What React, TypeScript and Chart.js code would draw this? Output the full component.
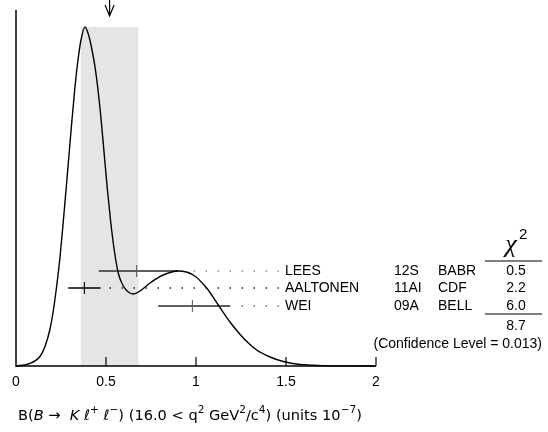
import React, { useEffect, useRef } from "react";
import { Chart, registerables } from "chart.js";

Chart.register(...registerables);

// ---------- data ----------
const X_TICKS = [0, 0.5, 1, 1.5, 2];
const X_TICK_LABELS = ["0", "0.5", "1", "1.5", "2"];

const NAMES = ["LEES", "AALTONEN", "WEI"];
const CODES = ["12S", "11AI", "09A"];
const EXPTS = ["BABR", "CDF", "BELL"];
const VALUES = [0.67, 0.38, 0.98];
const ERR_MINUS = [0.21, 0.09, 0.19];
const ERR_PLUS = [0.23, 0.09, 0.21];
const ROW_Y = [95, 78, 60];
const CHI2 = ["0.5", "2.2", "6.0"];
const CHI2_TOTAL = "8.7";
const CONF_LEVEL = "0.013";

const MEAN = 0.52;
const MEAN_ERR = 0.16;

const CURVE_X = [
  0, 0.067, 0.133, 0.161, 0.189, 0.207, 0.226, 0.244, 0.259, 0.276, 0.293, 0.309,
  0.326, 0.343, 0.36, 0.383, 0.405, 0.42, 0.439, 0.455, 0.471, 0.49, 0.507, 0.525,
  0.545, 0.568, 0.596, 0.624, 0.652, 0.689, 0.744, 0.818, 0.902, 0.985, 1.059, 1.124,
  1.189, 1.263, 1.337, 1.411, 1.485, 1.578, 1.7, 1.85, 2.0,
];
const CURVE_Y = [
  0, 2, 9.5, 19.5, 37, 55, 80, 108, 137, 172, 208, 242,
  276, 304, 325, 339, 330, 318, 299, 277, 250, 212, 178, 146,
  117, 93, 80, 74, 72, 75, 83, 91, 95, 91, 78, 61,
  44, 28, 16, 9, 4.5, 1.5, 0.4, 0.1, 0,
];

const TITLE = [
  { t: "B(" },
  { t: "B", it: true },
  { t: " \u2192  " },
  { t: "K", it: true },
  { t: " \u2113" },
  { t: "+", sup: true },
  { t: " \u2113" },
  { t: "\u2212", sup: true },
  { t: ") (16.0 < q" },
  { t: "2", sup: true },
  { t: " GeV" },
  { t: "2", sup: true },
  { t: "/c" },
  { t: "4", sup: true },
  { t: ") (units 10" },
  { t: "\u22127", sup: true },
  { t: ")" },
];

// ---------- styles ----------
const BAR_COLORS = ["#5e5e5e", "#000000", "#5e5e5e"];
const BAR_WIDTHS = [2, 1.3, 2];
const DOT_COLORS = ["#777777", "#000000", "#555555"];
const DOT_STEP = 12 / 180;
const DOT_END = 1.46;
const SANS = '"Liberation Sans", Arial, sans-serif';
const TITLE_FONT = '"DejaVu Sans", sans-serif';

function dotStart(hi: number) {
  const k = Math.ceil((hi + 0.03 - MEAN) / DOT_STEP);
  return MEAN + Math.max(0, k) * DOT_STEP;
}

const ideogramPlugin = {
  id: "ideogram",
  beforeDatasetsDraw(chart: any) {
    const { ctx } = chart;
    const xs = chart.scales.x;
    const ys = chart.scales.y;
    const x0 = xs.getPixelForValue(MEAN - MEAN_ERR);
    const x1 = xs.getPixelForValue(MEAN + MEAN_ERR);
    const peak = Math.max(...CURVE_Y);
    const yTop = ys.getPixelForValue(peak);
    const yBot = ys.getPixelForValue(0);
    ctx.save();
    ctx.fillStyle = "#e5e5e5";
    ctx.fillRect(x0, yTop, x1 - x0, yBot - yTop);
    ctx.restore();
  },
  afterDatasetsDraw(chart: any) {
    const { ctx, chartArea } = chart;
    const xs = chart.scales.x;
    const ys = chart.scales.y;
    const yBot = ys.getPixelForValue(0);
    const xL = xs.getPixelForValue(0);
    const xR = xs.getPixelForValue(2);
    ctx.save();
    // axes
    ctx.strokeStyle = "#000";
    ctx.lineWidth = 1.5;
    ctx.beginPath();
    ctx.moveTo(xL, chartArea.top);
    ctx.lineTo(xL, yBot);
    ctx.lineTo(xR, yBot);
    ctx.stroke();
    // ticks
    ctx.lineWidth = 1.2;
    X_TICKS.forEach((v, i) => {
      const px = xs.getPixelForValue(v);
      if (i > 0) {
        ctx.beginPath();
        ctx.moveTo(px, yBot);
        ctx.lineTo(px, yBot - 9);
        ctx.stroke();
      }
      ctx.fillStyle = "#000";
      ctx.font = `14px ${SANS}`;
      ctx.textAlign = "center";
      ctx.textBaseline = "middle";
      ctx.fillText(X_TICK_LABELS[i], px, yBot + 16);
    });
    // arrow at mean
    const ax = xs.getPixelForValue(MEAN);
    ctx.lineWidth = 1.2;
    ctx.beginPath();
    ctx.moveTo(ax, 0);
    ctx.lineTo(ax, 16);
    ctx.moveTo(ax - 4.5, 5);
    ctx.lineTo(ax, 16);
    ctx.lineTo(ax + 4.5, 5);
    ctx.stroke();

    // rows of text
    ctx.fillStyle = "#000";
    ctx.font = `14px ${SANS}`;
    ctx.textBaseline = "middle";
    NAMES.forEach((n, i) => {
      const y = ys.getPixelForValue(ROW_Y[i]);
      ctx.textAlign = "left";
      ctx.fillText(n, 285, y);
      ctx.fillText(CODES[i], 394, y);
      ctx.fillText(EXPTS[i], 438, y);
      ctx.textAlign = "center";
      ctx.fillText(CHI2[i], 516, y);
    });
    ctx.textAlign = "center";
    ctx.fillText(CHI2_TOTAL, 516, 326);
    ctx.textAlign = "right";
    ctx.fillText(`(Confidence Level = ${CONF_LEVEL})`, 542, 344);

    // chi2 header
    ctx.textAlign = "center";
    ctx.textBaseline = "alphabetic";
    ctx.font = `italic 26px "Liberation Serif", serif`;
    ctx.fillText("\u03c7", 511, 252);
    ctx.textAlign = "left";
    ctx.font = `15px ${SANS}`;
    ctx.fillText("2", 519, 239);
    ctx.lineWidth = 1.2;
    ctx.beginPath();
    ctx.moveTo(485, 261);
    ctx.lineTo(542, 261);
    ctx.moveTo(485, 314);
    ctx.lineTo(542, 314);
    ctx.stroke();

    // title (rich text)
    let tx = 18;
    const base = 420;
    TITLE.forEach((s: any) => {
      const size = s.sup ? 10.5 : 14.6;
      ctx.font = `${s.it ? "oblique " : ""}${size}px ${TITLE_FONT}`;
      ctx.textAlign = "left";
      ctx.textBaseline = "alphabetic";
      ctx.fillText(s.t, tx, s.sup ? base - 7 : base);
      tx += ctx.measureText(s.t).width;
    });
    ctx.restore();
  },
};

export default function App() {
  const ref = useRef<HTMLCanvasElement>(null);
  useEffect(() => {
    document.body.style.margin = "0";
    const datasets: any[] = [
      {
        label: "ideogram",
        data: CURVE_X.map((x, i) => ({ x, y: CURVE_Y[i] })),
        borderColor: "#000",
        borderWidth: 1.4,
        pointRadius: 0,
        cubicInterpolationMode: "monotone",
        fill: false,
        clip: false,
      },
    ];
    VALUES.forEach((v, i) => {
      datasets.push({
        label: NAMES[i],
        data: [
          { x: v - ERR_MINUS[i], y: ROW_Y[i] },
          { x: v, y: ROW_Y[i] },
          { x: v + ERR_PLUS[i], y: ROW_Y[i] },
        ],
        borderColor: BAR_COLORS[i],
        borderWidth: BAR_WIDTHS[i],
        pointRadius: [0, 6, 0],
        pointStyle: "line",
        rotation: 90,
        pointBorderColor: BAR_COLORS[i],
        pointBorderWidth: 1.1,
        tension: 0,
        fill: false,
        clip: false,
      });
    });
    VALUES.forEach((v, i) => {
      datasets.push({
        label: NAMES[i] + " dots",
        data: [
          { x: dotStart(v + ERR_PLUS[i]), y: ROW_Y[i] },
          { x: DOT_END, y: ROW_Y[i] },
        ],
        borderColor: DOT_COLORS[i],
        borderWidth: 1.3,
        borderDash: [1.3, 10.7],
        pointRadius: 0,
        tension: 0,
        fill: false,
        clip: false,
      });
    });
    const chart = new Chart(ref.current as HTMLCanvasElement, {
      type: "line",
      data: { datasets },
      options: {
        animation: false,
        responsive: false,
        devicePixelRatio: 1,
        events: [],
        layout: { padding: { left: 16, right: 172, top: 10, bottom: 66 } },
        scales: {
          x: { type: "linear", min: 0, max: 2, display: false },
          y: { type: "linear", min: 0, max: 356, display: false },
        },
        plugins: { legend: { display: false }, tooltip: { enabled: false } },
      },
      plugins: [ideogramPlugin],
    } as any);
    return () => chart.destroy();
  }, []);
  return (
    <div style={{ width: 548, height: 432 }}>
      <canvas ref={ref} width={548} height={432} style={{ display: "block", width: 548, height: 432 }} />
    </div>
  );
}
